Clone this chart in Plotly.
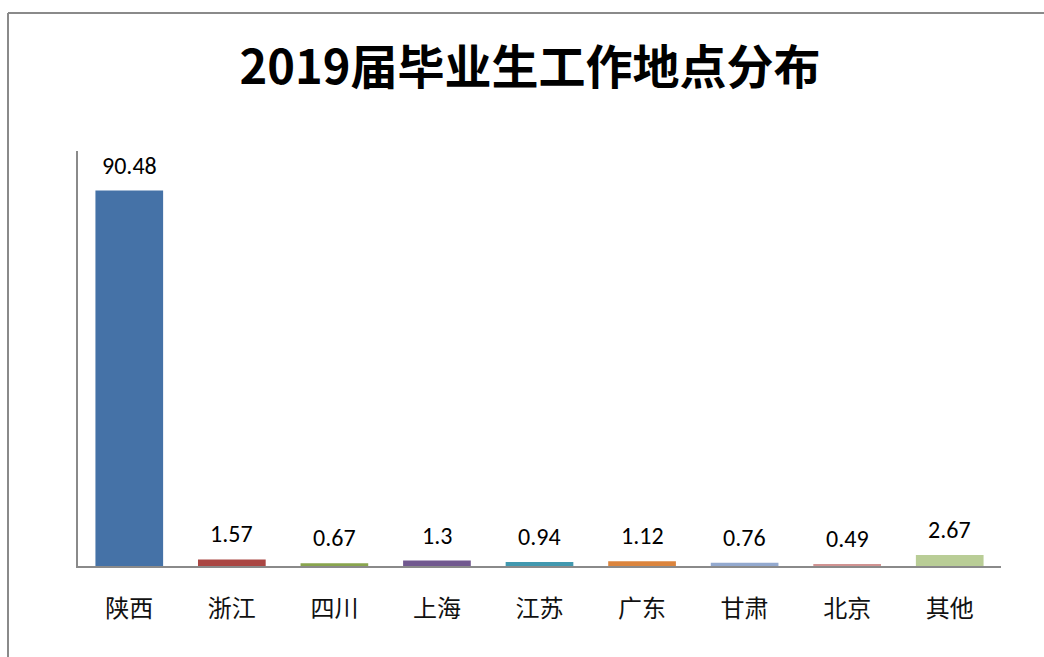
import plotly.graph_objects as go

categories = ["陕西", "浙江", "四川", "上海", "江苏", "广东", "甘肃", "北京", "其他"]
values = [90.48, 1.57, 0.67, 1.3, 0.94, 1.12, 0.76, 0.49, 2.67]
value_labels = ["90.48", "1.57", "0.67", "1.3", "0.94", "1.12", "0.76", "0.49", "2.67"]
colors = ["#4572A7", "#AA4643", "#89A54E", "#71588F", "#4198AF",
          "#DB843D", "#93A9CF", "#D19392", "#B9CD96"]

fig = go.Figure(go.Bar(
    x=categories, y=values, marker_color=colors, width=0.66,
    marker_line_width=0, showlegend=False, hoverinfo="x+y",
))

for c, v, t in zip(categories, values, value_labels):
    fig.add_annotation(x=c, y=v, text=t, showarrow=False, yanchor="bottom",
                       yshift=9, font=dict(family="Carlito, Lato, sans-serif", size=24, color="#000"))

W, H = 1044, 657
l, r, t, b = 78, 43, 151, 91
pw, ph = W - l - r, H - t - b
def px(x):
    return (x - l) / pw
def py(y):
    return (H - b - y) / ph

line = dict(color="#8a8a8a", width=2)
fig.add_shape(type="line", xref="paper", yref="paper", x0=px(8), x1=px(1044), y0=py(13), y1=py(13), line=line)
fig.add_shape(type="line", xref="paper", yref="paper", x0=px(8), x1=px(8), y0=py(13), y1=py(657), line=line)

fig.update_layout(
    width=W, height=H,
    margin=dict(l=l, r=r, t=t, b=b),
    plot_bgcolor="white", paper_bgcolor="white",
    title=dict(text="<b>2019届毕业生工作地点分布</b>", x=530 / W, xanchor="center",
               y=1 - 68 / H, yanchor="middle",
               font=dict(family="Noto Sans CJK SC", size=47, color="#000")),
    xaxis=dict(showline=True, linecolor="#8a8a8a", linewidth=2, ticks="",
               tickfont=dict(family="Noto Sans CJK SC", size=24, color="#111"),
               ticklabelstandoff=20, showgrid=False, fixedrange=True),
    yaxis=dict(range=[0, 100], showline=True, linecolor="#8a8a8a", linewidth=2,
               showticklabels=False, ticks="", showgrid=False, zeroline=False, fixedrange=True),
    bargap=0.34,
)

fig.write_html("out.html", config={"displayModeBar": False},
               post_script="document.body.style.margin='0';document.body.style.overflow='hidden';")
